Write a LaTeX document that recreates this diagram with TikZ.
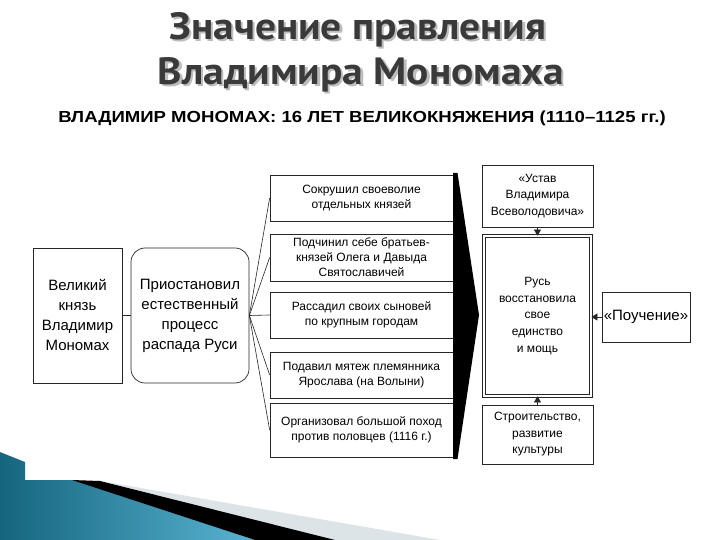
\documentclass[tikz,border=0pt]{standalone}
\usepackage{fontspec}
\setmainfont{Liberation Sans}
\newfontfamily\titlefont{PT Sans}
\usetikzlibrary{arrows.meta,calc}
\definecolor{titlegray}{HTML}{3A3A3A}
\definecolor{shadowgray}{HTML}{BDBDBD}
\definecolor{tealdark}{HTML}{16657E}
\definecolor{teallight}{HTML}{58B4D2}
\definecolor{stripgray}{HTML}{DCE4E8}
\definecolor{boxline}{HTML}{262626}
\newcommand\shadowedtext[1]{\makebox[0pt][l]{\raisebox{-2pt}{\hspace*{2pt}\textcolor{shadowgray}{#1}}}\textcolor{titlegray}{#1}}
\tikzset{
  box/.style={draw=boxline, line width=0.7pt, fill=white, align=center, inner sep=0pt,
    font=\fontsize{12}{15}\selectfont},
  bigbox/.style={box, font=\fontsize{15}{20}\selectfont},
  fanline/.style={draw=boxline, line width=0.6pt},
  tip/.style={draw=boxline, line width=0.6pt, -{Triangle[length=6pt,width=7pt]}},
  titlestyle/.style={anchor=base, inner sep=0pt, font=\titlefont\bfseries\fontsize{38}{42}\selectfont}
}
\begin{document}
\begin{tikzpicture}[x=1pt,y=-1pt]
\useasboundingbox (0,0) rectangle (720,540);
\fill[white] (0,0) rectangle (720,540);
% decoration bottom left
\fill[stripgray] (95,480) -- (440,540) -- (330,540) -- cycle;
\shade[left color=tealdark, right color=teallight] (0,452) -- (25,462) -- (25,480) -- (75,480) -- (255,540) -- (0,540) -- cycle;
\fill[black] (72,480) -- (100,481) -- (335,540) -- (255,540) -- cycle;
% titles
\node[titlestyle] (t1) at (358,40) {\scalebox{1.09}[1]{\shadowedtext{Значение правления}}};
\node[titlestyle] (t2) at (361,85) {\scalebox{1.09}[1]{\shadowedtext{Владимира Мономаха}}};
\node[anchor=base, inner sep=0pt, font=\bfseries\fontsize{16}{18}\selectfont] (sub) at (362,123) {\scalebox{1.16}[1]{ВЛАДИМИР МОНОМАХ: 16 ЛЕТ ВЕЛИКОКНЯЖЕНИЯ (1110--1125 гг.)}};
% left boxes
\node[bigbox, minimum width=89pt, minimum height=135pt] (lbox) at (77.5,315.5) {Великий\\князь\\Владимир\\Мономах};
\node[bigbox, rounded corners=14pt, minimum width=118pt, minimum height=135pt] (rbox) at (190,315.5) {Приостановил\\естественный\\процесс\\распада Руси};
\draw[fanline] (lbox.east) -- (rbox.west);
% middle boxes
\node[box, minimum width=183pt, minimum height=46pt] (b1) at (361.5,198) {Сокрушил своеволие\\отдельных князей};
\node[box, minimum width=183pt, minimum height=47pt] (b2) at (361.5,257.5) {Подчинил себе братьев-\\князей Олега и Давыда\\Святославичей};
\node[box, minimum width=183pt, minimum height=46pt] (b3) at (361.5,315) {Рассадил своих сыновей\\по крупным городам};
\node[box, minimum width=183pt, minimum height=46pt] (b4) at (361.5,375) {Подавил мятеж племянника\\Ярослава (на Волыни)};
\node[box, minimum width=183pt, minimum height=54pt] (b5) at (361.5,430) {Организовал большой поход\\против половцев (1116 г.)};
\foreach \b in {b1,b2,b3,b4,b5}{\draw[fanline] (rbox.east) -- (\b.west);}
% chevron
\fill[black] (453,173) -- (457.5,173) -- (479,315) -- (457.5,459) -- (453,459) -- cycle;
% right column
\node[box, minimum width=111pt, minimum height=62pt, font=\fontsize{12}{16.5}\selectfont] (ustav) at (537.5,196) {«Устав\\Владимира\\Всеволодовича»};
\node[box, double=white, double distance=2.6pt, line width=0.7pt, minimum width=107pt, minimum height=160pt, font=\fontsize{12}{16.7}\selectfont] (rus) at (537.5,316) {Русь\\восстановила\\свое\\единство\\и мощь};
\node[box, minimum width=111pt, minimum height=59pt, font=\fontsize{12}{16.5}\selectfont] (stroi) at (537.5,434.5) {Строительство,\\развитие\\культуры};
\node[box, font=\fontsize{15}{18}\selectfont, minimum width=88pt, minimum height=50pt] (pouch) at (646,317) {«Поучение»};
\draw[tip] (ustav.south) -- (rus.north);
\draw[tip] (stroi.north) -- (rus.south);
\draw[tip] (pouch.west) -- (pouch.west -| rus.east);
\end{tikzpicture}
\end{document}
